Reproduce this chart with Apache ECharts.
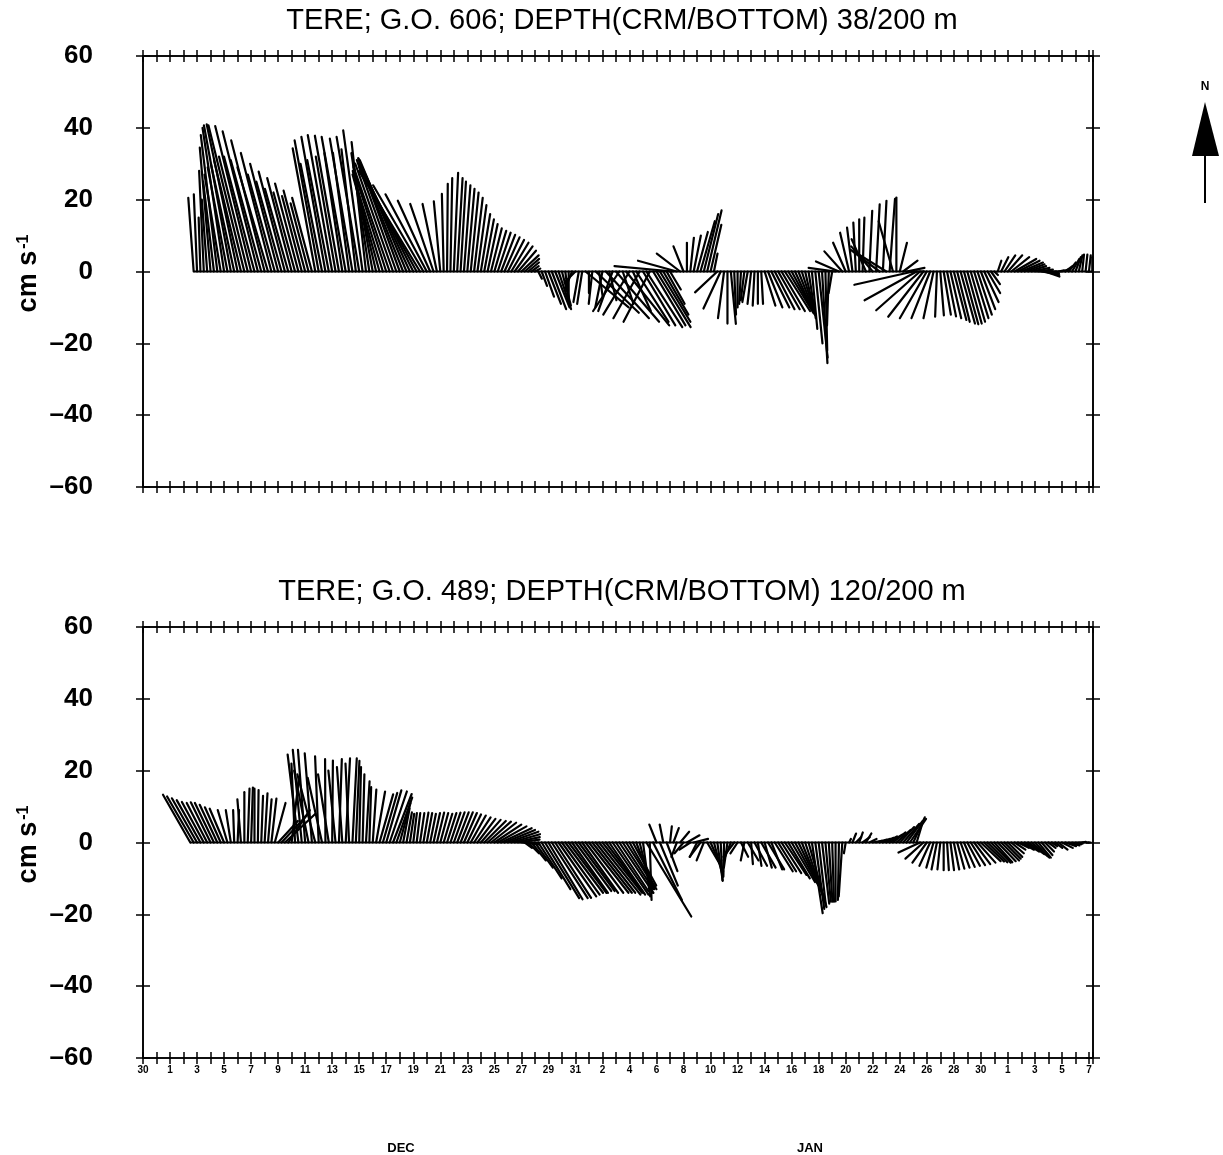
<!DOCTYPE html>
<html>
<head>
<meta charset="utf-8">
<title>TERE current sticks</title>
<script src="https://cdn.jsdelivr.net/npm/echarts@6/dist/echarts.min.js"></script>
<style>
  html, body { margin: 0; padding: 0; background: #fff; }
  #chart { width: 1223px; height: 1155px; }
</style>
</head>
<body>
<div id="chart"></div>
<script>
// day 0 = start of the time axis (label "30"), Dec 1 = day 2, Jan 1 = day 32, Feb 1 = day 63
const dayLabels = ['30', '1', '3', '5', '7', '9', '11', '13', '15', '17', '19', '21', '23', '25', '27', '29', '31',
  '2', '4', '6', '8', '10', '12', '14', '16', '18', '20', '22', '24', '26', '28', '30',
  '1', '3', '5', '7']
const monthLabels = ['DEC', 'JAN']
const yTicks = [-60, -40, -20, 0, 20, 40, 60]

const titles = [
  'TERE; G.O. 606; DEPTH(CRM/BOTTOM) 38/200 m',
  'TERE; G.O. 489; DEPTH(CRM/BOTTOM) 120/200 m'
]

// 6-hourly current vectors (cm/s), east (u) and north (v)
const STEP = 0.25
const topStart = 3.75
const botStart = 3.5

const topU = [
  -1.5, -0.9, -0.5, -1.3, -1.5, -3, -3, -4.6, -4.5, -6,
  -5.5, -7.5, -6.5, -8.6, -7.5, -10, -8, -10, -8.5, -9.8,
  -8.5, -9.3, -8.5, -8.5, -7.5, -7.8, -7, -7.3, -6.5, -6.8,
  -6, -6.5, -5.5, -6, -5, -5.5, -6.3, -6.7, -6, -6.7,
  -6, -6.8, -5.5, -6.7, -5, -6.7, -4.5, -6.3, -4, -6.3,
  -5.4, -4, -5, -5.5, -6.5, -7.5, -8, -9, -10, -10.5,
  -11, -11.5, -12.5, -13, -14, -15, -16, -17, -14, -11.5,
  -9, -6.5, -4, -1.8, -0.5, 0.2, 0.5, 1.2, 1.5, 1.5,
  1.8, 2, 2.2, 2.4, 2.5, 2.6, 2.7, 2.8, 3, 3.3,
  3.6, 3.9, 4.2, 4.5, 4.8, 5, 5, 4.8, 4, 3,
  2, 1.5, 1, 1.5, 2.5, 3.5, 4, 4, 3.5, 2.5,
  1, 0, -2, -3, -1.5, -1.4, 12, 0, -1, 12,
  1, -2, 12, 2, -4, 12, -7.3, 3, 12, -7.3,
  5, 9, -7.3, 9, 10, -7.3, 9, 9.5, 8.5, 7,
  5, 3, -16.4, -10.8, -6.5, -2.8, 0, 1, 2, 3,
  4, 4, 4, 3, 1, -6.2, -4.8, -1.7, 0, 1.4,
  0.5, 0, -0.5, -1, -1.5, -1, -0.5, 0, 0.5, 3,
  4, 5, 5.5, 6, 6.5, 7, 7, 6.5, 5.5, 4.5,
  3.5, 2.5, 2, 1.5, 2, 2.5, 1.5, 0.5, -0.5, -1,
  -7.5, -6.4, -5, -3.5, -2.5, -1.5, -0.7, 0, 0.5, -4,
  0.8, -6, 1, -8, 1, -9, 1.5, -4, 0, 2,
  4, 5, 4, -16.4, -14.5, -12.2, -9.8, -7.5, -5.2, -2.8,
  -0.5, 1, 2, 2.5, 3, 3.5, 3.5, 4, 4, 4,
  4, 4, 4, 4, 4, 3.5, 2.5, 1, 1, 2,
  3, 4, 5, 6, 6, 6, 5.5, 5, 5, 5,
  5, 4.5, 4, 3, 2, 1.5, 1.5, 2, 2, 2,
  2, 1.5, 1, 0.5, 0.5, 0.5, 0
]
const topV = [
  20.5, 21.5, 15, 28, 20, 34.5, 25, 38, 27, 40,
  29, 40.7, 30, 41, 31, 40.7, 32, 40.5, 32, 39,
  31, 36.5, 29, 33, 27, 30, 25, 27.8, 23, 26,
  22, 24.5, 21, 22.5, 19, 20.5, 34.3, 36.5, 30, 37.5,
  31, 38, 32, 37.8, 33, 37.5, 33, 37, 34, 37.5,
  39.3, 36, 33, 30, 28, 27, 26, 28, 29, 30,
  31, 31.5, 31.5, 31, 30.5, 30, 29, 28, 24, 21.5,
  19.7, 18.8, 18.8, 19.5, 21.6, 24.4, 26, 27.5, 26, 25,
  24, 23, 22, 20.5, 18.5, 16, 14.5, 13.2, 12, 11.3,
  10.8, 10.2, 9.5, 8.8, 8, 7, 5.8, 4.5, 3.5, 2.5,
  1.5, 0.8, -2, -4, -7, -9, -10.5, -10, -10.5, -9.5,
  -8, -7.5, -5, -3, -8.5, -9, -10, -6, -9, -11.5,
  -7, -10, -13, -8, -11, -14, -11, -9, -15, -12,
  -11, -14, -13, -15, -15.5, -14, -15, -15.5, -14, -12,
  -9, -5, 1.5, 3, 5, 7, 8, 9.4, 10, 11,
  14, 16, 17, 13, 5, -5.8, -10.3, -13, -14.5, -14.6,
  -12, -10, -9, -8, -8.5, -9, -9.5, -9, -9, -9.5,
  -10, -10, -10.5, -10.5, -11, -11, -11.5, -12, -12, -11.5,
  -11, -11, -13, -16, -20, -24, -25.5, -22, -15, -6,
  1, 2.8, 5.6, 8, 10.8, 12.2, 13.6, 14.5, 15, 9,
  16.9, 7, 18.7, 6, 19.7, 5.6, 20.2, 14, 20.6, 8,
  3, 1, 0, -3.7, -8, -10.8, -12.6, -13, -13, -13,
  -12.6, -12.2, -12, -12.5, -13, -13.5, -14, -14.5, -14.7, -14.5,
  -14, -13, -12, -10.5, -8.5, -6, -3.5, -1, 3, 4,
  4.5, 4.5, 4, 3.5, 3, 2.5, 2, 1.5, 1, 0.5,
  0, -0.8, -1.4, -1, -0.5, 0, 0.3, 0.6, 1.5, 2.5,
  3.5, 4, 4.5, 4.7, 4.7, 4.5, 4
]

const botU = [
  -7.6, -7.4, -7, -6.6, -6.1, -5.7, -5.5, -5.3, -4.9, -4.4,
  -4, -2.7, -1.4, -0.3, 0.4, -1, 0, 0.5, 0.5, 0,
  0.2, 0.5, 0.8, 1, 1.4, 3, 5.5, 7, 8.5, 6,
  2, -1, -3, -2.5, -2, -4, -2, -5, -1, -4,
  -0.1, -3, 0.2, -2, 0.8, -1.5, 1.2, -1, 1.2, 1,
  0.5, 0.5, 1, 0.5, 1, 2.5, 3.8, 4, 4.2, 4.8,
  5.2, 4.4, 3, 1.8, 1.5, 1.2, 1, 1, 1.2, 1.4,
  1.5, 1.6, 1.8, 2, 2.2, 2.4, 2.6, 2.8, 3, 3.2,
  3.4, 3.6, 3.8, 4.2, 4.6, 5, 5.5, 6, 6.5, 7,
  7.5, 8, 8.5, 8.5, 8.5, 8, 7, 6, 5, 2,
  3, 4, 5, 6.5, 8, 9.5, 9.5, 10, 10, 10.5,
  10.5, 10.5, 10.5, 10, 10, 10, 10, 10.5, 11, 11,
  11, 11.5, 11, 10.5, 10, 10, 9, 9.5, 8.5, 8,
  7.5, 6.5, 5, 3.5, 2, 12.5, 0.5, 8, -2, 5,
  -1, 3, 0.5, 1.5, -1.5, 2.5, -2.5, 3.5, -3, 4,
  -2, -3, -2, 3.5, 3.5, 2.5, 1.5, 0.5, -0.2, -1,
  -2, -3, -2, 2, -1, 3, 0.5, 3.5, 1, 4,
  2, 4.5, 3, 5, 5, 5.5, 6, 6, 6.5, 6.5,
  6.5, 6, 5.5, 5, 3, 2.5, 2, 2, 1.5, 1,
  0.5, 0, -0.3, -1, -0.5, 0.5, 1, 1.5, 1, 2,
  1.5, 2, 2.5, 3, 3, 3, 3, 3.5, 3.5, 4,
  4, 4.5, 4.5, 4.5, 3.2, 1.5, -6, -5, -4, -3,
  -2, -1.5, -0.8, 0, 0.5, 1, 1.5, 2, 2.5, 3,
  3.5, 4, 4.5, 5, 5.5, 5.5, 5.5, 5.5, 5, 5,
  5, 4.5, 4, 3.5, 3, 3, 3.5, 4, 4.5, 4.5,
  4, 3.5, 3, 2.5, 2, 1.5, 2, 2.5, 3, 3,
  3, 2.5, 2, 1.5, 1, 1, 0.5
]
const botV = [
  13.3, 12.8, 12.3, 11.8, 11.3, 11, 11.2, 11, 10.5, 9.8,
  9.4, 9, 9, 9, 9, 12, 14, 15, 15.3, 15,
  14.6, 13, 13.7, 12, 12.2, 11, 6, 7.5, 8, 9,
  18, 22, 24.5, 25.8, 25.8, 20, 24.8, 19, 24, 18,
  23.2, 19, 22.8, 20, 23.2, 21, 23.4, 22, 23.4, 22.7,
  21, 19, 17, 15.4, 14.7, 14.2, 13.4, 13.8, 14.5, 14.2,
  13.5, 12.5, 11, 9.5, 8.4, 8, 8.2, 8.2, 8.2, 8.3,
  8.2, 8, 8.2, 8.3, 8.2, 8, 8.2, 8.3, 8.4, 8.4,
  8.4, 8.2, 7.8, 7.5, 7, 6.6, 6.3, 6, 5.8, 5.5,
  5, 4.5, 4, 3.5, 3, 2.3, 1.5, 0.8, -0.5, -1.5,
  -3, -5, -7, -10, -13, -15.5, -15.8, -15.5, -15.4, -15,
  -14.5, -14, -14, -14, -13.5, -13.5, -14, -14, -14, -14,
  -14, -14.5, -14, -14, -14.5, -14.5, -13.5, -14, -13, -12.5,
  -13, -12, -13, -14, -15, -20.6, -16, -16, 5, -12,
  5, -8, 4.5, 4, -4, 3, -3, 2, -2, 1,
  -4, -4, -5, -6, -8, -9.5, -10.7, -10.5, -9.5, -7,
  -5, -4, -3, -4, -5, -5, -6, -6.5, -6.5, -7,
  -7, -7.5, -7.5, -8, -8, -8.5, -9, -10, -11, -12,
  -13.5, -15, -16.5, -18, -19.7, -18.5, -17.5, -17, -16.5, -16.5,
  -16.5, -16.4, -16, -15, -3, 1, 2.5, 1.5, 2.8, 1.5,
  2.5, 1, 0.5, 0.8, 1, 1.3, 1.7, 2.2, 2.8, 3.5,
  4.3, 5.2, 6, 6.6, 7, 5, -2.8, -4.5, -5.6, -6.5,
  -7, -7.5, -7.5, -7.7, -7.7, -7.7, -7.5, -7.3, -7, -6.8,
  -6.5, -6.3, -6, -5.6, -5.2, -5.3, -5.5, -5.6, -5.5, -5.2,
  -5, -4.5, -4, -3, -2, -1.5, -2, -2.5, -3.2, -3.8,
  -4.2, -4.2, -3.5, -2.5, -1.5, -1, -1.5, -2, -1.5, -1,
  -0.8, -0.5, -0.3, 0, 0.2, 0, 0
]

const X_MAX = 70.3
const FONT = '"Liberation Sans", Arial, Helvetica, sans-serif'
const grids = [
  { left: 143, top: 56, width: 950, height: 431 },
  { left: 143, top: 627, width: 950, height: 431 }
]

function toSticks(start, us, vs) {
  return us.map((u, i) => [start + i * STEP, u, vs[i]])
}

function renderStick(params, api) {
  const base = api.coord([api.value(0), 0])
  // same pixel scale on both components: cm/s measured on the y axis
  const unit = api.size([0, 1])[1]
  return {
    type: 'line',
    shape: {
      x1: base[0], y1: base[1],
      x2: base[0] + api.value(1) * unit,
      y2: base[1] - api.value(2) * unit
    },
    style: { stroke: '#000', lineWidth: 2.2, lineCap: 'round' }
  }
}

function xAxisPair(g, position, withLabels) {
  const common = {
    gridIndex: g,
    type: 'value',
    min: 0,
    max: X_MAX,
    interval: 1,
    position: position,
    axisLine: { onZero: false, lineStyle: { color: '#000', width: 1.6 } },
    splitLine: { show: false }
  }
  return [
    Object.assign({}, common, {
      axisTick: { inside: false, length: 6, lineStyle: { color: '#000', width: 1.5 } },
      axisLabel: {
        show: withLabels,
        interval: 0,
        margin: 7,
        color: '#000',
        fontFamily: FONT,
        fontWeight: 'bold',
        fontSize: 10,
        formatter: function (val) {
          const r = Math.round(val)
          if (Math.abs(val - r) > 1e-6 || r % 2 !== 0) return ''
          return dayLabels[r / 2] || ''
        }
      }
    }),
    Object.assign({}, common, {
      axisTick: { inside: true, length: 6, lineStyle: { color: '#000', width: 1.5 } },
      axisLabel: { show: false }
    })
  ]
}

function yAxisPair(g, position, withLabels) {
  const common = {
    gridIndex: g,
    type: 'value',
    min: yTicks[0],
    max: yTicks[yTicks.length - 1],
    interval: 20,
    position: position,
    axisLine: { onZero: false, lineStyle: { color: '#000', width: 1.6 } },
    splitLine: { show: false }
  }
  return [
    Object.assign({}, common, {
      axisTick: { inside: false, length: 7, lineStyle: { color: '#000', width: 1.5 } },
      axisLabel: {
        show: withLabels,
        margin: 50,
        color: '#000',
        fontFamily: FONT,
        fontWeight: 'bold',
        fontSize: 26,
        formatter: function (val) { return val < 0 ? '\u2013' + Math.abs(val) : String(val) }
      }
    }),
    Object.assign({}, common, {
      axisTick: { inside: true, length: 7, lineStyle: { color: '#000', width: 1.5 } },
      axisLabel: { show: false }
    })
  ]
}

const xAxes = []
const yAxes = []
grids.forEach((gr, g) => {
  xAxes.push(...xAxisPair(g, 'bottom', g === 1), ...xAxisPair(g, 'top', false))
  yAxes.push(...yAxisPair(g, 'left', true), ...yAxisPair(g, 'right', false))
})

const panels = [
  { data: toSticks(topStart, topU, topV) },
  { data: toSticks(botStart, botU, botV) }
]

const series = []
panels.forEach((p, g) => {
  const first = p.data[0][0]
  const last = p.data[p.data.length - 1][0]
  series.push({
    type: 'line',
    xAxisIndex: g * 4,
    yAxisIndex: g * 4,
    data: [[first, 0], [last, 0]],
    symbol: 'none',
    lineStyle: { color: '#000', width: 1.8 },
    silent: true
  })
  series.push({
    type: 'custom',
    xAxisIndex: g * 4,
    yAxisIndex: g * 4,
    renderItem: renderStick,
    data: p.data,
    silent: true
  })
})

const graphics = []
titles.forEach((t, g) => {
  graphics.push({
    type: 'text',
    x: grids[g].left + grids[g].width / 2 + 4,
    y: grids[g].top - 35,
    style: {
      text: t,
      fill: '#000',
      font: 'normal 29px ' + FONT,
      align: 'center',
      verticalAlign: 'middle'
    }
  })
  // axis name "cm s-1", read bottom to top
  graphics.push({
    type: 'text',
    x: 29,
    y: grids[g].top + grids[g].height / 2 + 2,
    rotation: Math.PI / 2,
    style: {
      text: '{m|cm s}{s|-1}',
      fill: '#000',
      align: 'center',
      verticalAlign: 'middle',
      rich: {
        m: { fontFamily: FONT, fontWeight: 'bold', fontSize: 27, fill: '#000', verticalAlign: 'bottom' },
        s: { fontFamily: FONT, fontWeight: 'bold', fontSize: 16, fill: '#000', verticalAlign: 'top', padding: [0, 0, 0, 2] }
      }
    }
  })
})
monthLabels.forEach((m, k) => {
  graphics.push({
    type: 'text',
    x: k === 0 ? 401 : 810,
    y: 1148,
    style: { text: m, fill: '#000', font: 'bold 13px ' + FONT, align: 'center', verticalAlign: 'middle' }
  })
})
// north arrow
graphics.push(
  { type: 'text', x: 1205, y: 87, style: { text: 'N', fill: '#000', font: 'bold 12px ' + FONT, align: 'center', verticalAlign: 'middle' } },
  { type: 'polygon', shape: { points: [[1205, 102], [1192, 156], [1219, 156]] }, style: { fill: '#000' } },
  { type: 'line', shape: { x1: 1205, y1: 154, x2: 1205, y2: 203 }, style: { stroke: '#000', lineWidth: 2 } }
)

const chart = echarts.init(document.getElementById('chart'), null, { renderer: 'canvas' })
chart.setOption({
  animation: false,
  backgroundColor: '#fff',
  grid: grids,
  xAxis: xAxes,
  yAxis: yAxes,
  series: series,
  graphic: graphics
})
</script>
</body>
</html>
